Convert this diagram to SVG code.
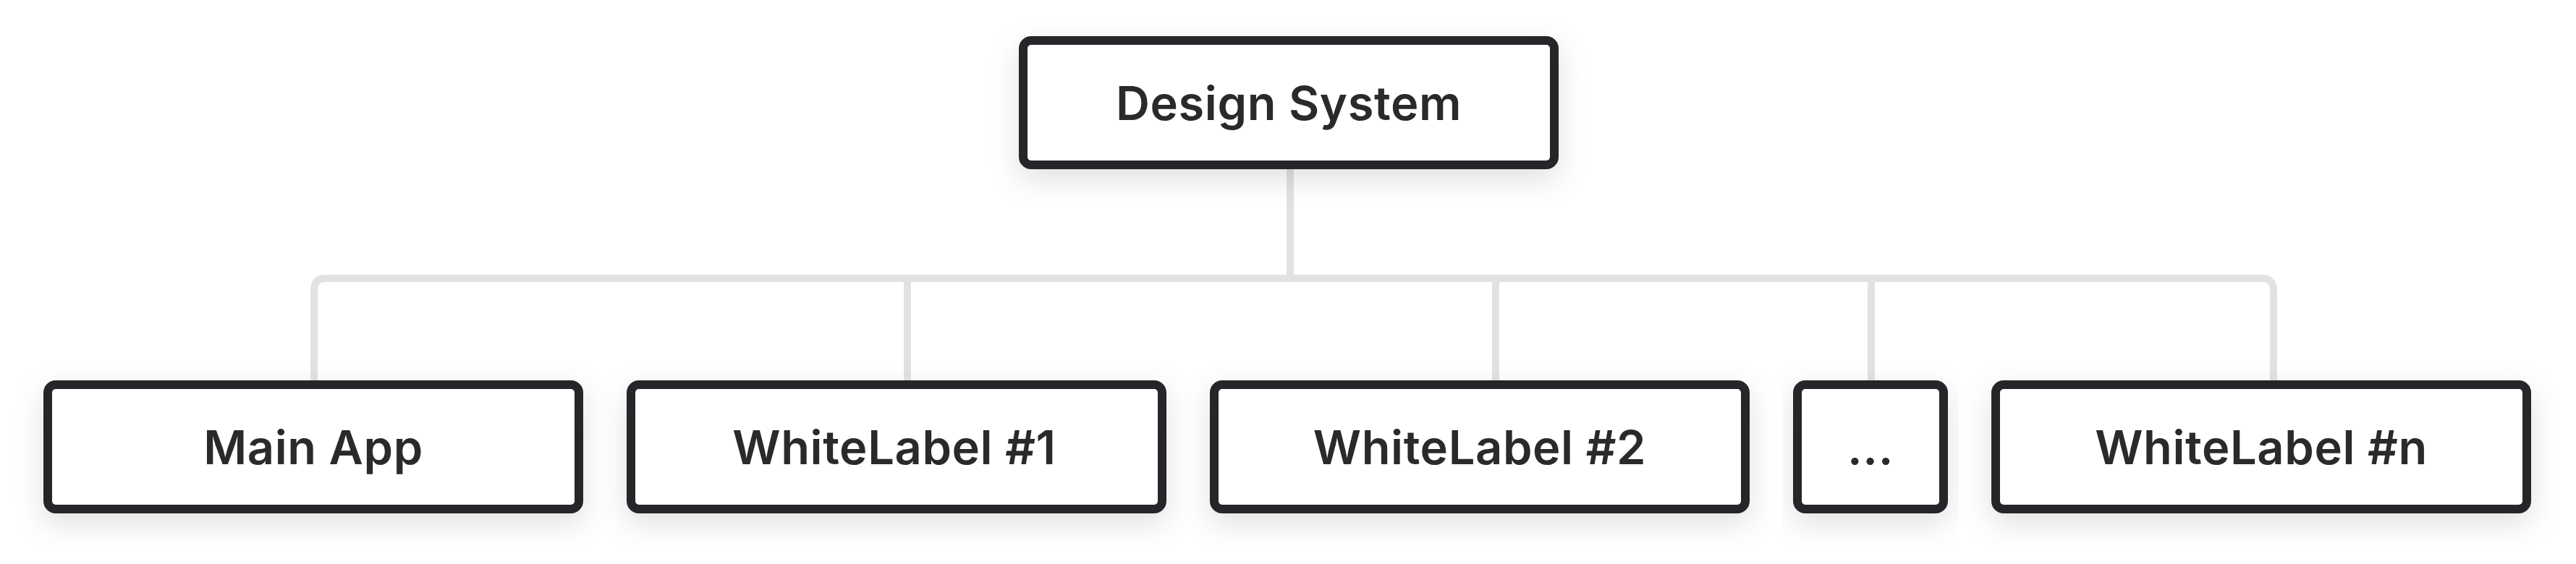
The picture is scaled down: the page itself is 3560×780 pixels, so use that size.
<svg xmlns="http://www.w3.org/2000/svg" width="3560" height="780" viewBox="0 0 3560 780">
  <defs>
    <filter id="shadow" x="-10%" y="-40%" width="120%" height="190%">
      <feDropShadow dx="0" dy="14" stdDeviation="20" flood-color="#000000" flood-opacity="0.12"/>
    </filter>
  </defs>
  <style>
    .box { fill: #ffffff; stroke: #28282a; stroke-width: 12; filter: url(#shadow); }
    .label { font-family: Inter, "Noto Sans", "Liberation Sans", sans-serif; font-weight: 600; font-size: 65px; letter-spacing: 0.6px; fill: #2a2a2c; text-anchor: middle; }
    .conn { fill: none; stroke: #e2e2e2; stroke-width: 10; }
  </style>
  <rect width="3560" height="780" fill="#ffffff"/>
  <g id="connectors">
    <path class="conn" d="M1783 234 V385"/>
    <path class="conn" d="M434 526 V401 Q434 385 450 385 H3126 Q3142 385 3142 401 V526"/>
    <path class="conn" d="M1254 385 V526"/>
    <path class="conn" d="M2067 385 V526"/>
    <path class="conn" d="M2586 385 V526"/>
  </g>
  <g id="design-system">
    <rect class="box" x="1414" y="56" width="734" height="172" rx="11"/>
    <text class="label" x="1781" y="166">Design System</text>
  </g>
  <g id="main-app">
    <rect class="box" x="66" y="532" width="734" height="172" rx="11"/>
    <text class="label" x="433" y="642">Main App</text>
  </g>
  <g id="whitelabel-1">
    <rect class="box" x="872" y="532" width="734" height="172" rx="11"/>
    <text class="label" x="1236" y="642">WhiteLabel #1</text>
  </g>
  <g id="whitelabel-2">
    <rect class="box" x="1678" y="532" width="734" height="172" rx="11"/>
    <text class="label" x="2045" y="642">WhiteLabel #2</text>
  </g>
  <g id="ellipsis">
    <rect class="box" x="2484" y="532" width="202" height="172" rx="11"/>
    <text class="label" x="2585" y="642">...</text>
  </g>
  <g id="whitelabel-n">
    <rect class="box" x="2758" y="532" width="734" height="172" rx="11"/>
    <text class="label" x="3125" y="642">WhiteLabel #n</text>
  </g>
</svg>
